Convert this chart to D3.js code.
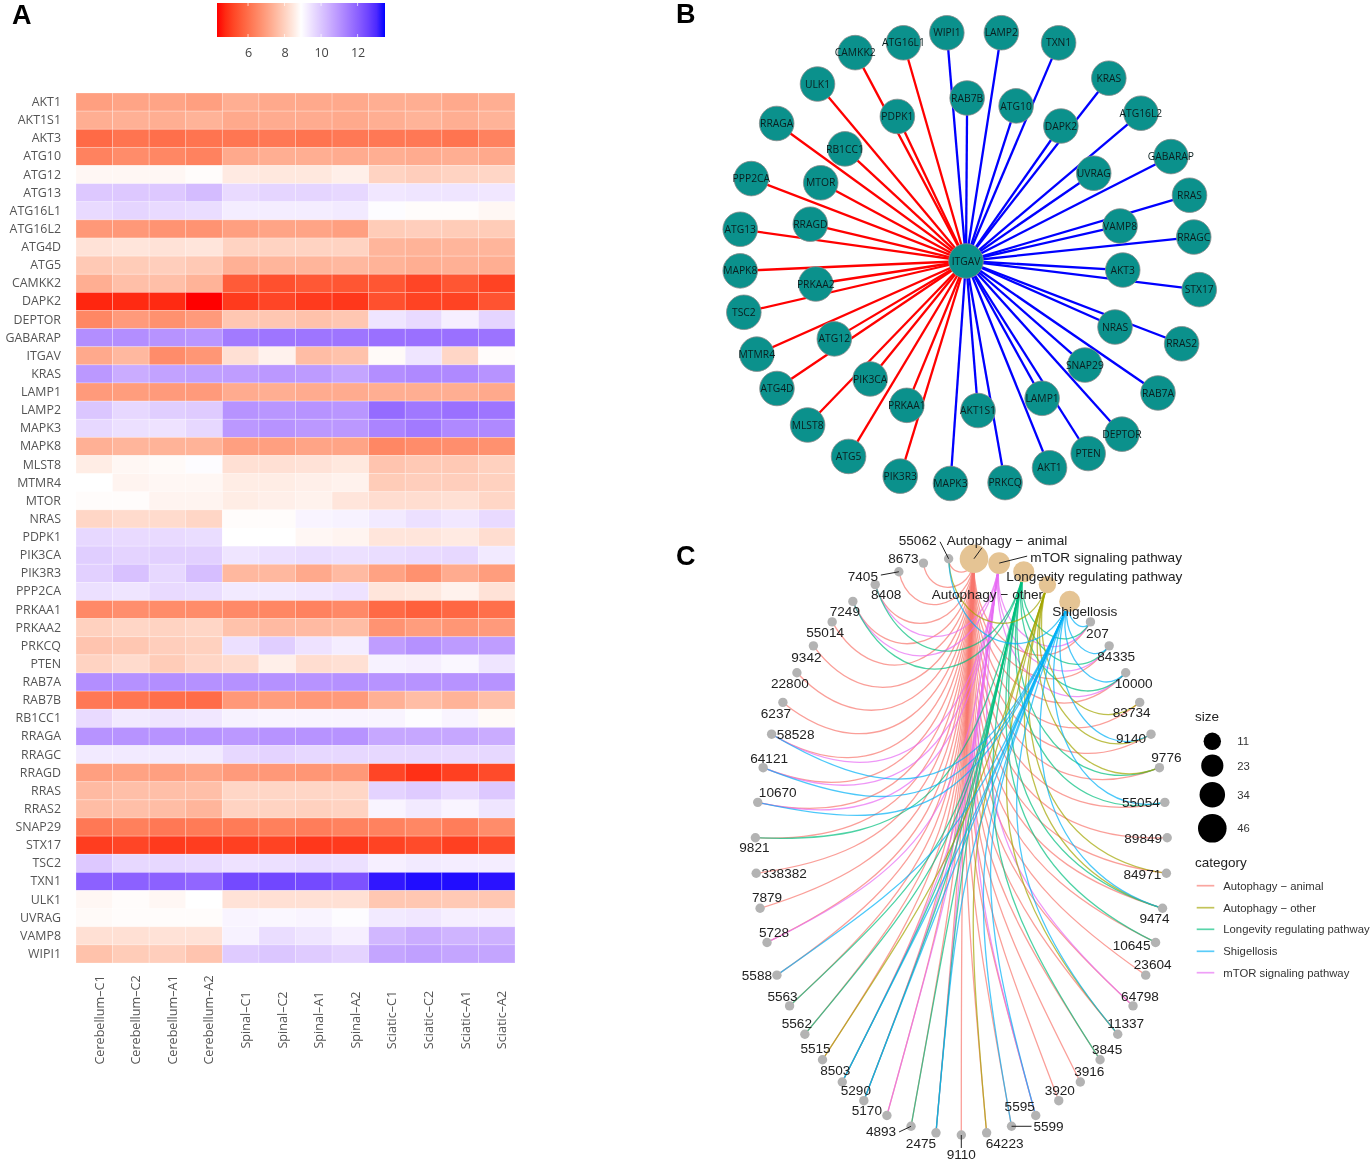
<!DOCTYPE html>
<html><head><meta charset="utf-8">
<script src="https://cdn.jsdelivr.net/npm/d3@7"></script>
<style>html,body{margin:0;padding:0;background:#fff}svg{display:block;filter:blur(.4px)}</style>
</head><body><svg id="c" width="1371" height="1161"></svg>
<script>
// ---------- Panel A data ----------
const heatColumns=["Cerebellum–C1","Cerebellum–C2","Cerebellum–A1","Cerebellum–A2","Spinal–C1","Spinal–C2","Spinal–A1","Spinal–A2","Sciatic–C1","Sciatic–C2","Sciatic–A1","Sciatic–A2"];
const heatRows=["AKT1","AKT1S1","AKT3","ATG10","ATG12","ATG13","ATG16L1","ATG16L2","ATG4D","ATG5","CAMKK2","DAPK2","DEPTOR","GABARAP","ITGAV","KRAS","LAMP1","LAMP2","MAPK3","MAPK8","MLST8","MTMR4","MTOR","NRAS","PDPK1","PIK3CA","PIK3R3","PPP2CA","PRKAA1","PRKAA2","PRKCQ","PTEN","RAB7A","RAB7B","RB1CC1","RRAGA","RRAGC","RRAGD","RRAS","RRAS2","SNAP29","STX17","TSC2","TXN1","ULK1","UVRAG","VAMP8","WIPI1"];
const heatValues=[
[7.0,7.1,7.1,7.0,7.3,7.2,7.2,7.2,7.3,7.3,7.2,7.3],
[7.3,7.35,7.3,7.4,7.2,7.25,7.25,7.2,7.3,7.4,7.3,7.4],
[5.9,6.1,6.0,6.1,6.15,6.2,6.1,6.2,6.2,6.2,6.1,6.4],
[6.4,6.6,6.5,6.4,7.2,7.3,7.3,7.25,7.3,7.25,7.3,7.2],
[8.75,8.75,8.75,8.85,8.5,8.45,8.45,8.6,8.05,7.95,8.05,8.1],
[9.95,9.95,9.95,10.2,9.6,9.7,9.7,9.65,9.35,9.4,9.4,9.35],
[9.6,9.7,9.6,9.55,9.25,9.25,9.25,9.3,8.95,8.85,8.85,8.75],
[6.85,6.85,6.75,6.75,7.0,7.1,7.1,7.0,7.9,7.95,7.9,7.9],
[8.35,8.4,8.35,8.4,8.05,8.05,8.05,8.05,7.45,7.4,7.45,7.45],
[7.85,7.9,7.95,7.85,7.35,7.45,7.45,7.5,7.4,7.3,7.35,7.3],
[7.3,7.65,7.65,7.4,5.6,5.4,5.55,5.5,5.5,5.2,5.5,5.15],
[4.7,4.75,4.75,4.3,5.0,5.2,5.0,4.95,5.4,5.15,5.15,5.45],
[6.5,6.9,6.7,6.9,7.8,7.8,7.7,7.8,9.4,9.6,9.2,9.7],
[11.1,11.1,11.0,10.95,11.5,11.6,11.6,11.6,11.7,11.7,11.7,11.65],
[7.2,7.5,6.6,6.8,8.3,8.65,7.6,7.7,8.8,9.4,8.1,8.85],
[10.9,10.5,10.7,10.75,10.8,10.9,10.85,10.65,11.1,11.2,11.2,11.0],
[6.9,6.95,6.9,6.9,7.25,7.3,7.25,7.25,7.3,7.3,7.3,7.2],
[10,9.65,9.85,9.9,11,10.95,11,10.95,11.8,11.55,11.7,11.6],
[9.65,9.5,9.45,9.65,10.9,11,10.9,10.9,11.3,11.5,11.2,11.2],
[7.35,7.45,7.4,7.4,7.0,7.0,7.1,7.1,6.5,6.6,6.65,6.7],
[8.55,8.75,8.8,8.95,8.3,8.3,8.35,8.45,7.75,7.85,7.85,8.0],
[8.9,8.7,8.75,8.75,8.55,8.55,8.6,8.65,7.9,7.95,7.95,8.0],
[8.85,8.85,8.7,8.7,8.55,8.6,8.65,8.4,8.25,8.25,8.3,8.1],
[8.1,8.2,8.2,8.1,8.85,8.85,9.1,9.15,9.3,9.5,9.35,9.6],
[9.65,9.6,9.6,9.55,8.9,8.9,8.75,8.7,8.4,8.4,8.5,8.25],
[9.85,9.75,9.8,9.8,9.4,9.5,9.55,9.5,9.55,9.6,9.65,9.3],
[9.8,10.1,9.65,10.15,7.5,7.5,7.2,7.55,7.05,6.7,7.25,6.95],
[9.5,9.4,9.6,9.55,9.3,9.3,9.35,9.45,8.4,8.45,8.65,8.35],
[6.55,6.65,6.6,6.6,6.55,6.5,6.4,6.55,5.9,5.7,5.85,6.0],
[8.0,8.1,8.05,8.1,7.7,7.55,7.55,7.6,6.75,6.95,6.8,6.9],
[7.75,7.8,7.95,8.0,9.5,9.85,9.45,9.25,10.8,11.05,10.85,10.8],
[8.05,8.2,7.9,8.1,8.2,8.6,8.25,8.3,9.15,9.2,9.05,9.4],
[11.1,11.05,11.1,11.05,11.05,11.05,11.0,11.05,11.0,11.0,11.0,11.0],
[6.2,6.15,6.0,5.95,6.85,6.95,6.85,6.9,7.35,7.6,7.4,7.65],
[9.6,9.3,9.4,9.35,9.15,9.1,9.1,9.1,9.1,8.95,9.1,8.8],
[11.0,11.0,11.0,11.0,10.9,11.0,11.0,11.0,10.6,10.6,10.6,10.5],
[9.3,9.3,9.3,9.3,9.65,9.75,9.65,9.65,9.65,9.65,9.6,9.65],
[7.0,7.05,7.0,7.1,6.9,6.85,6.8,6.85,5.2,4.85,5.1,5.3],
[7.55,7.65,7.65,7.65,8.1,8.1,8.1,8.1,9.75,9.9,9.6,9.95],
[7.6,7.65,7.6,7.45,8.05,8.05,8.0,8.05,9.1,9.3,9.1,9.4],
[6.2,6.35,6.2,6.25,6.25,6.35,6.3,6.4,6.4,6.5,6.3,6.6],
[5.05,5.2,5.0,5.05,5.1,5.15,4.95,5.0,5.15,5.3,5.1,5.3],
[9.95,9.65,9.65,9.6,9.45,9.5,9.55,9.5,9.2,9.3,9.25,9.25],
[12.0,12.0,12.0,11.9,12.45,12.5,12.45,12.3,13.3,13.4,13.4,13.35],
[8.75,8.85,8.75,8.9,8.35,8.3,8.3,8.3,7.8,7.8,7.85,7.8],
[8.8,8.85,8.85,8.85,9.1,9.05,9.1,8.95,9.3,9.35,9.2,9.2],
[8.3,8.3,8.35,8.35,9.15,9.55,9.4,9.2,10.3,10.5,10.35,10.4],
[7.7,7.9,7.95,7.75,9.9,10.0,9.9,9.75,10.65,10.75,10.65,10.65]];
const heatTicks=[6,8,10,12];
const heatDomain=[4.3,8.9,13.5];

// ---------- Panel B data ----------
const netHub="ITGAV";
const netGenes=["WIPI1","LAMP2","TXN1","KRAS","ATG16L2","GABARAP","RRAS","RRAGC","STX17","RRAS2","RAB7A","DEPTOR","PTEN","AKT1","PRKCQ","MAPK3","PIK3R3","ATG5","MLST8","ATG4D","MTMR4","TSC2","MAPK8","ATG13","PPP2CA","RRAGA","ULK1","CAMKK2","ATG16L1","RAB7B","ATG10","DAPK2","UVRAG","VAMP8","AKT3","NRAS","SNAP29","LAMP1","AKT1S1","PRKAA1","PIK3CA","ATG12","PRKAA2","RRAGD","MTOR","RB1CC1","PDPK1"];
const netBearing=[355.2,8.8,23,38,49.8,63,73.6,84,97,111,124.5,138,147.6,158,170,184,197,211,224,236,246,257,267.5,278,291,306,320,332,344,0.4,17.9,35.1,55.5,77.2,93.3,113.9,131.2,151,175.4,202.3,219.1,239.4,261.3,283.3,298.3,312.8,334.6];
const netDistance=[229,231,237,232,229,230,233,229,235,231,233,233,228,223,225,223,225,228,228,228,229,228,226,228,230,234,231,236,227,163,163,165,155,158,157,163,158,157,150,156,152,153,152,160,165,165,160];
const netRedGenes=["ATG16L1","CAMKK2","PDPK1","ULK1","RB1CC1","RRAGA","PPP2CA","MTOR","RRAGD","ATG13","MAPK8","PRKAA2","TSC2","MTMR4","ATG12","ATG4D","PIK3CA","MLST8","ATG5","PRKAA1","PIK3R3"];

// ---------- Panel C data ----------
const cnetCategories=["Autophagy − animal","Autophagy − other","Longevity regulating pathway","Shigellosis","mTOR signaling pathway"];
const cnetColors=["#F8766D","#A3A500","#00BF7D","#00B0F6","#E76BF3"];
const cnetSizes=[46,11,20,20,22];
const cnetRing=["9110","64223","5599","5595","3920","3916","3845","11337","64798","23604","10645","9474","84971","89849","55054","9776","9140","83734","10000","84335","207","Shigellosis","Autophagy − other","Longevity regulating pathway","mTOR signaling pathway","Autophagy − animal","55062","8673","7405","8408","7249","55014","9342","22800","6237","58528","64121","10670","9821","338382","7879","5728","5588","5563","5562","5515","8503","5290","5170","4893","2475"];
const genesAnimal=cnetRing.filter(n=>/^\d+$/.test(n));
const genesMtor=["8408","7249","58528","64121","10670","5728","8503","5290","5170","2475","5595","64798","10000","84335","207"];
const genesLongevity=["8408","7249","9821","5563","5562","4893","8503","5290","2475","3845","10645","9474","55054","9776","10000","84335","207"];
const genesOther=["55062","5515","64223","11337","9474","84971","9776","9140","83734"];
const genesShigellosis=["55062","58528","64121","10670","5588","8503","5290","2475","5599","5595","11337","9474","55054","9140","10000","84335","207"];
const sizeLegend=[11,23,34,46];

// layout offsets of repelled labels (relative to their node)
const labelOffset={"55062":[-31,-19],"8673":[-20,-5],"7405":[-36,4],"8408":[11,10],"7249":[-8,10],"55014":[-7,10],"9342":[-7,11],"22800":[-7,10],"6237":[-7,11],"58528":[24,0],"64121":[6,-9],"10670":[20,-10],"9821":[-1,10],"338382":[28,0],"7879":[7,-11],"5728":[7,-10],"5588":[-20,0],"5563":[-7,-10],"5562":[-8,-11],"5515":[-7,-11],"8503":[-7,-12],"5290":[-8,-10],"5170":[-20,-5],"4893":[-30,5],"2475":[-15,10],"9110":[0,19],"64223":[18,10],"5599":[37,0],"5595":[-16,-9],"3920":[1,-10],"3916":[9,-11],"3845":[7,-10],"11337":[8,-11],"64798":[7,-10],"23604":[7,-11],"10645":[-24,3],"9474":[-8,10],"84971":[-24,1],"89849":[-24,1],"55054":[-24,0],"9776":[7,-10],"9140":[-20,4],"83734":[-8,10],"10000":[8,10],"84335":[7,10],"207":[7,11],"Autophagy − animal":[33,-19],"mTOR signaling pathway":[107,-6],"Longevity regulating pathway":[70.5,4],"Autophagy − other":[-60,10],"Shigellosis":[15,10]};
const leaderOffset={"55062":[-8.6,-17],"7405":[-18,3.3],"4893":[-12,5.7],"9110":[0,13],"5599":[20,0],"Autophagy − animal":[8,-11],"mTOR signaling pathway":[28,-7]};

const svg=d3.select("#c");
const SANS="'Liberation Sans',Arial,sans-serif", OPEN="'Open Sans',sans-serif";
svg.selectAll("text.panel").data([["A",12,24],["B",676,23],["C",676,565]]).join("text")
  .attr("class","panel").attr("x",d=>d[1]).attr("y",d=>d[2]).text(d=>d[0])
  .attr("font-family",SANS).attr("font-weight","bold").attr("font-size",27).attr("fill","#000");

// ---------- A: heatmap ----------
const hx=d3.scaleBand().domain(heatColumns).range([76,515]);
const hy=d3.scaleBand().domain(heatRows).range([93,963]);
const redSide=d3.scalePow().exponent(1.3).domain([0,1]).range([0,1]);
const redRamp=d3.interpolateLab("#ff0000","#ffffff"), blueRamp=d3.interpolateLab("#ffffff","#0000ff");
const toRed=d3.scaleLinear().domain([heatDomain[0],heatDomain[1]]).range([0,1]).clamp(true);
const toBlue=d3.scaleLinear().domain([heatDomain[1],heatDomain[2]]).range([0,1]).clamp(true);
const hc=v=>v<heatDomain[1]?redRamp(redSide(toRed(v))):blueRamp(toBlue(v));
const A=svg.append("g");
heatRows.forEach((r,i)=>{
  A.append("g").selectAll("rect").data(heatValues[i]).join("rect")
    .attr("x",(d,j)=>hx(heatColumns[j])).attr("y",hy(r))
    .attr("width",hx.bandwidth()).attr("height",hy.bandwidth())
    .attr("fill",d=>hc(d)).attr("stroke","rgba(255,255,255,.3)").attr("stroke-width",.8);
});
const ay=A.append("g").attr("transform","translate(61,0)").call(d3.axisLeft(hy).tickSize(0).tickPadding(0));
ay.select(".domain").remove();
ay.selectAll("text").attr("font-family",OPEN).attr("font-size",12.4).attr("fill","#555");
const ax=A.append("g").attr("transform","translate(5,1020)").call(d3.axisBottom(hx).tickSize(0).tickPadding(0));
ax.select(".domain").remove();
ax.selectAll("text").attr("font-family",OPEN).attr("font-size",12.6).attr("fill","#555")
  .attr("text-anchor","middle").attr("y",0).attr("dy",".35em").attr("transform","rotate(-90)");
// colour bar
const cb=d3.scaleLinear().domain([heatDomain[0],heatDomain[2]]).range([217,385]);
const grad=svg.append("defs").append("linearGradient").attr("id","cbg");
d3.range(0,1.0001,.05).forEach(t=>{const v=heatDomain[0]+t*(heatDomain[2]-heatDomain[0]);
  grad.append("stop").attr("offset",t).attr("stop-color",hc(v));});
A.append("rect").attr("x",217).attr("y",3).attr("width",168).attr("height",34).attr("fill","url(#cbg)");
const cba=A.append("g").attr("transform","translate(0,37)").call(d3.axisBottom(cb).tickValues(heatTicks).tickSize(0).tickPadding(11));
cba.select(".domain").remove();
cba.selectAll("text").attr("font-family",OPEN).attr("font-size",12.6).attr("fill","#444");
A.append("g").selectAll("line").data(heatTicks.flatMap(t=>[[t,3,6],[t,34,37]])).join("line")
  .attr("x1",d=>cb(d[0])).attr("x2",d=>cb(d[0])).attr("y1",d=>d[1]).attr("y2",d=>d[2])
  .attr("stroke","rgba(255,255,255,.7)").attr("stroke-width",1);

// ---------- B: network ----------
const B=svg.append("g").attr("transform","translate(966,261)");
const rad=d3.scaleLinear().domain([0,360]).range([0,2*Math.PI]);
const netNodes=netGenes.map((g,i)=>{const p=d3.pointRadial(rad(netBearing[i]),netDistance[i]);return {g,x:p[0],y:p[1]};});
B.append("g").selectAll("line").data(netNodes).join("line")
  .attr("x1",0).attr("y1",0).attr("x2",d=>d.x).attr("y2",d=>d.y)
  .attr("stroke",d=>netRedGenes.includes(d.g)?"#ff0000":"#0000ff").attr("stroke-width",2.3);
const allNodes=[...netNodes,{g:netHub,x:0,y:0}];
B.append("g").selectAll("circle").data(allNodes).join("circle")
  .attr("cx",d=>d.x).attr("cy",d=>d.y).attr("r",17.3)
  .attr("fill","#0B918C").attr("stroke","#8a8a8a").attr("stroke-width",.8);
B.append("g").selectAll("text").data(allNodes).join("text")
  .attr("x",d=>d.x).attr("y",d=>d.y).attr("dy",".35em").attr("text-anchor","middle")
  .attr("font-family",OPEN).attr("font-size",10.3).attr("fill","#0a1f1f").text(d=>d.g);

// ---------- C: cnet ----------
const N=cnetRing.length;
const th=d3.scaleLinear().domain([0,N]).range([0,2*Math.PI]);
const ex=d3.scaleLinear().domain([-1,1]).range([755.3,1167.3]);
const ey=d3.scaleLinear().domain([-1,1]).range([558.2,1135]);
const pos={};
cnetRing.forEach((n,i)=>{pos[n]={u:Math.sin(th(i)),v:Math.cos(th(i))};pos[n].x=ex(pos[n].u);pos[n].y=ey(pos[n].v);});
const C=svg.append("g");
const edgeOrder=[[0,genesAnimal],[4,genesMtor],[2,genesLongevity],[1,genesOther],[3,genesShigellosis]];
edgeOrder.forEach(([ci,list])=>{
  const c=pos[cnetCategories[ci]];
  C.append("g").selectAll("path").data(list).join("path")
    .attr("d",g=>{const p=pos[g];const path=d3.path();
      const rho=1-Math.hypot(c.u-p.u,c.v-p.v)/2;   // pull towards the ring centre grows with chord
      path.moveTo(c.x,c.y);
      path.bezierCurveTo(ex(c.u*rho),ey(c.v*rho),ex(p.u*rho),ey(p.v*rho),p.x,p.y);
      return path.toString();})
    .attr("fill","none").attr("stroke",cnetColors[ci]).attr("stroke-opacity",.7).attr("stroke-width",1.3);
});
const sz=d3.scalePow().exponent(.5).domain([11,46]).range([8.7,14.3]);
C.append("g").selectAll("circle").data(genesAnimal).join("circle")
  .attr("cx",g=>pos[g].x).attr("cy",g=>pos[g].y).attr("r",4.7).attr("fill","#b3b3b3");
C.append("g").selectAll("circle").data(cnetCategories).join("circle")
  .attr("cx",g=>pos[g].x).attr("cy",g=>pos[g].y).attr("r",(g,i)=>sz(cnetSizes[i])).attr("fill","#E5C494");
C.append("g").selectAll("line").data(Object.keys(leaderOffset)).join("line")
  .attr("x1",g=>pos[g].x).attr("y1",g=>pos[g].y)
  .attr("x2",g=>pos[g].x+leaderOffset[g][0]).attr("y2",g=>pos[g].y+leaderOffset[g][1])
  .attr("stroke","#222").attr("stroke-width",1);
C.append("g").selectAll("text").data(cnetRing).join("text")
  .attr("x",g=>pos[g].x+labelOffset[g][0]).attr("y",g=>pos[g].y+labelOffset[g][1])
  .attr("dy",".35em").attr("text-anchor","middle").attr("font-family",SANS).attr("font-size",13.6).attr("fill","#222").text(g=>g);

// legends
const L=svg.append("g");
L.selectAll("text.ttl").data([["size",721],["category",867]]).join("text").attr("class","ttl")
  .attr("x",1195).attr("y",d=>d[1]).attr("font-family",SANS).attr("font-size",13.5).attr("fill","#222").text(d=>d[0]);
L.append("g").selectAll("circle").data(sizeLegend).join("circle")
  .attr("cx",1212.3).attr("cy",(d,i)=>[741.3,765.7,794.7,828.3][i]).attr("r",d=>sz(d)).attr("fill","#000");
L.append("g").selectAll("text").data(sizeLegend).join("text")
  .attr("x",1237.3).attr("y",(d,i)=>[741.3,765.7,794.7,828.3][i]).attr("dy",".35em")
  .attr("font-family",SANS).attr("font-size",11.3).attr("fill","#333").text(d=>d);
const ly=[885.7,907.7,929.3,951.3,972.7];
L.append("g").selectAll("line").data(cnetCategories).join("line")
  .attr("x1",1196.7).attr("x2",1214.3).attr("y1",(d,i)=>ly[i]).attr("y2",(d,i)=>ly[i])
  .attr("stroke",(d,i)=>cnetColors[i]).attr("stroke-opacity",.65).attr("stroke-width",1.7);
L.append("g").selectAll("text").data(cnetCategories).join("text")
  .attr("x",1223.3).attr("y",(d,i)=>ly[i]).attr("dy",".35em")
  .attr("font-family",SANS).attr("font-size",11.3).attr("fill","#333").text(d=>d);
</script></body></html>
